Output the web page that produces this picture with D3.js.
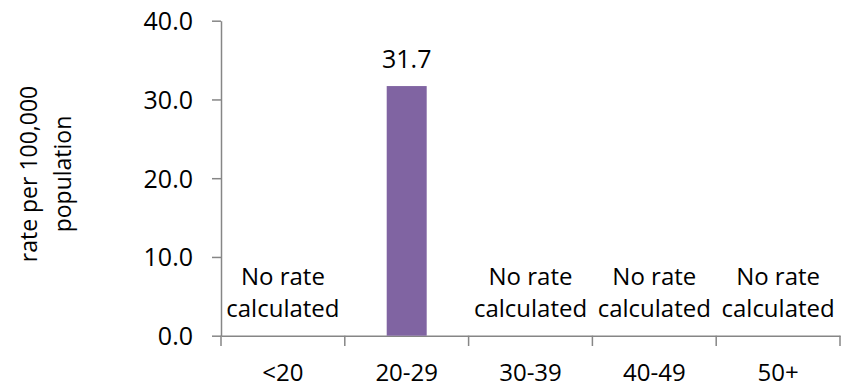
<!DOCTYPE html>
<html><head><meta charset="utf-8">
<script src="https://cdn.jsdelivr.net/npm/d3@7"></script>
<style>body{margin:0;background:#fff}svg{display:block}text{font-family:"Open Sans",sans-serif;fill:#000}</style>
</head><body><svg id="c" width="868" height="389"></svg>
<script>
const categories = ["<20","20-29","30-39","40-49","50+"];
const values = [null, 31.7, null, null, null];
const yTicks = [0,10,20,30,40];
const noRateLabel = ["No rate","calculated"];
const yTitle = ["rate per 100,000","population"];

const FONT = '"Open Sans",sans-serif';
const FS = 25;
const svg = d3.select("#c");
const x = d3.scaleBand().domain(categories).range([221,840]).paddingInner(0.677).paddingOuter(0.3385);
const band = d3.scaleBand().domain(categories).range([221,840]);
const y = d3.scaleLinear().domain([0,40]).range([335.7,20.7]);
const axisColor = "#868686";

// y axis
const ya = svg.append("g").attr("transform","translate(221,0)")
  .call(d3.axisLeft(y).tickValues(yTicks).tickFormat(d3.format(".1f")).tickSizeInner(9).tickSizeOuter(0).tickPadding(19));
ya.select(".domain").attr("stroke",axisColor).attr("stroke-width",1.5);
ya.selectAll(".tick line").attr("stroke",axisColor).attr("stroke-width",1.5);
ya.selectAll(".tick text").attr("font-size",FS).attr("font-family",FONT).attr("fill","#000").attr("dy","0.36em");

// x axis
const xa = svg.append("g").attr("transform","translate(0,335.7)")
  .call(d3.axisBottom(band).tickSize(0));
xa.select(".domain").attr("stroke",axisColor).attr("stroke-width",1.5);
xa.selectAll(".tick text").attr("font-size",24).attr("font-family",FONT).attr("fill","#000")
  .attr("y",45).attr("dy",0);
// boundary tick marks
const bounds = categories.map(c=>band(c)).concat([band.range()[1]]);
svg.append("g").selectAll("line").data(bounds).join("line")
  .attr("x1",d=>d).attr("x2",d=>d).attr("y1",335.7).attr("y2",346)
  .attr("stroke",axisColor).attr("stroke-width",1.5);

// bars
const data = categories.map((c,i)=>({c, v: values[i]}));
svg.append("g").selectAll("rect").data(data.filter(d=>d.v!=null)).join("rect")
  .attr("x",d=>x(d.c)).attr("width",x.bandwidth())
  .attr("y",d=>y(d.v)).attr("height",d=>y(0)-y(d.v))
  .attr("fill","#8064A2");
svg.append("g").selectAll("text").data(data.filter(d=>d.v!=null)).join("text")
  .attr("x",d=>x(d.c)+x.bandwidth()/2).attr("y",d=>y(d.v)-18)
  .attr("text-anchor","middle").attr("font-size",FS).text(d=>d.v.toFixed(1));

// no rate labels
const nr = svg.append("g").selectAll("text").data(data.filter(d=>d.v==null)).join("text")
  .attr("text-anchor","middle").attr("font-size",24);
nr.selectAll("tspan").data(d=>noRateLabel.map((t,i)=>({t,i,c:d.c}))).join("tspan")
  .attr("x",d=>band(d.c)+band.bandwidth()/2).attr("y",d=>285+d.i*32).text(d=>d.t);

// y title
const yt = svg.append("text").attr("transform","translate(0,174) rotate(-90)")
  .attr("text-anchor","middle").attr("font-size",23);
yt.selectAll("tspan").data(yTitle).join("tspan")
  .attr("x",0).attr("y",(d,i)=>37+i*34).text(d=>d);
</script></body></html>
